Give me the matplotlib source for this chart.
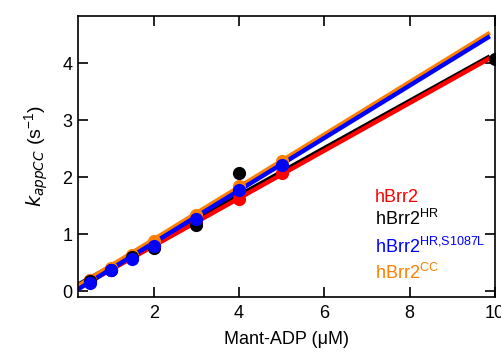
import matplotlib
matplotlib.use("Agg")
import matplotlib.pyplot as plt
import numpy as np

plt.rcParams['font.family'] = ['Liberation Sans', 'DejaVu Sans']
plt.rcParams['mathtext.default'] = 'regular'

# Mant-ADP concentration (uM) and observed rates (s^-1)
conc = [0.5, 1.0, 1.5, 2.0, 3.0, 4.0, 5.0]
conc_hr = [0.5, 1.0, 1.5, 2.0, 3.0, 4.0, 10.0]
k_wt = [0.20, 0.38, 0.58, 0.80, 1.20, 1.62, 2.07]
k_hr = [0.18, 0.38, 0.60, 0.76, 1.16, 2.08, 4.07]
k_s1087l = [0.15, 0.37, 0.57, 0.80, 1.26, 1.77, 2.22]
k_cc = [0.20, 0.41, 0.64, 0.88, 1.33, 1.84, 2.28]

# linear fits: slope (kon) and intercept (koff)
fit_slope = {'wt': 0.418, 'hr': 0.415, 's1087l': 0.460, 'cc': 0.460}
fit_icpt = {'wt': -0.04, 'hr': 0.02, 's1087l': -0.07, 'cc': -0.01}

labels = ['hBrr2', r'hBrr2$^{HR}$', r'hBrr2$^{HR{,}S1087L}$', r'hBrr2$^{CC}$']
colors = {'wt': '#ff0000', 'hr': '#000000', 's1087l': '#0000ff', 'cc': '#ff8000'}

fig = plt.figure(figsize=(5.02, 3.56), dpi=100)
ax = fig.add_axes([0.155, 0.166, 0.831, 0.789])

xfit = np.linspace(0.22, 9.88, 50)
series = [('hr', conc_hr, k_hr), ('wt', conc, k_wt), ('cc', conc, k_cc), ('s1087l', conc, k_s1087l)]
for i, (key, x, y) in enumerate(series):
    c = colors[key]
    ax.plot(xfit, fit_slope[key] * xfit + fit_icpt[key], color=c, lw=3.2,
            solid_capstyle='butt', zorder=2 + i * 0.1)
order = {'wt': 3.0, 'cc': 3.1, 'hr': 3.2, 's1087l': 3.3}
for key, x, y in series:
    ax.plot(x, y, 'o', color=colors[key], ms=9.5, mec='none', zorder=order[key])

ax.set_xlim(0.22, 10)
ax.set_ylim(-0.1, 4.83)
ax.set_xticks([2, 4, 6, 8, 10])
ax.set_yticks([0, 1, 2, 3, 4])
ax.tick_params(direction='in', length=7, width=1.2, top=True, right=True, labelsize=13)
ax.tick_params(axis='x', pad=6)
ax.tick_params(axis='y', pad=4)
for s in ax.spines.values():
    s.set_linewidth(1.2)

ax.set_xlabel('Mant-ADP (μM)', fontsize=13, labelpad=6)
ax.set_ylabel(r'$\it{k}_{\it{appCC}}$ (s$^{-1}$)', fontsize=14, labelpad=8)

ypos = [0.339, 0.256, 0.157, 0.064]
for lab, key, yy in zip(labels, ['wt', 'hr', 's1087l', 'cc'], ypos):
    ax.text(0.712, yy, lab, color=colors[key], fontsize=13, transform=ax.transAxes, va='baseline')

fig.savefig('out.png', dpi=100)
